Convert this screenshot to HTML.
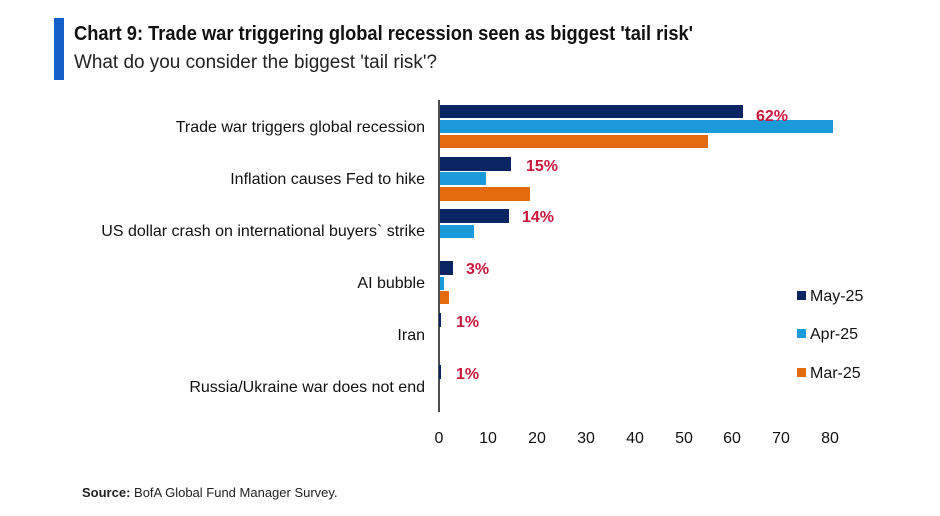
<!DOCTYPE html>
<html><head><meta charset="utf-8"><style>
body{margin:0;background:#fff;width:940px;height:511px;overflow:hidden;font-family:"Liberation Sans",sans-serif;}
</style></head><body>
<svg width="940" height="511" xmlns="http://www.w3.org/2000/svg" font-family="Liberation Sans, sans-serif">
<rect x="54" y="18" width="10" height="62" fill="#1560c8"/>
<text x="74" y="40" font-size="20" font-weight="bold" fill="#111" textLength="619" lengthAdjust="spacingAndGlyphs">Chart 9: Trade war triggering global recession seen as biggest 'tail risk'</text>
<text x="74" y="68" font-size="19" fill="#222" textLength="363" lengthAdjust="spacingAndGlyphs">What do you consider the biggest 'tail risk'?</text>
<g font-size="16" fill="#111" text-anchor="end">
<text x="425" y="132">Trade war triggers global recession</text>
<text x="425" y="184">Inflation causes Fed to hike</text>
<text x="425" y="236">US dollar crash on international buyers` strike</text>
<text x="425" y="288">AI bubble</text>
<text x="425" y="340">Iran</text>
<text x="425" y="392">Russia/Ukraine war does not end</text>
</g>
<line x1="439" y1="100" x2="439" y2="412" stroke="#111" stroke-width="1.5"/>
<g fill="#0b2563">
<rect x="440" y="105" width="303" height="13"/>
<rect x="440" y="157" width="71" height="14"/>
<rect x="440" y="209" width="69" height="14"/>
<rect x="440" y="261" width="13" height="14"/>
<rect x="439" y="313" width="2" height="14"/>
<rect x="439" y="365" width="2" height="14"/>
</g>
<g fill="#1a9ad9">
<rect x="440" y="120" width="393" height="13"/>
<rect x="440" y="172" width="46" height="13"/>
<rect x="440" y="225" width="34" height="13"/>
<rect x="440" y="277" width="4" height="13"/>
</g>
<g fill="#e36a0f">
<rect x="440" y="135" width="268" height="13"/>
<rect x="440" y="187" width="90" height="14"/>
<rect x="440" y="291" width="9" height="13"/>
</g>
<g font-size="16" font-weight="bold" fill="#c8173c">
<text x="756" y="121">62%</text>
<text x="526" y="171">15%</text>
<text x="522" y="222">14%</text>
<text x="466" y="274">3%</text>
<text x="456" y="327">1%</text>
<text x="456" y="379">1%</text>
</g>
<g font-size="16" fill="#111" text-anchor="middle">
<text x="439" y="443">0</text><text x="488" y="443">10</text><text x="537" y="443">20</text><text x="586" y="443">30</text><text x="635" y="443">40</text><text x="684" y="443">50</text><text x="732" y="443">60</text><text x="781" y="443">70</text><text x="830" y="443">80</text>
</g>
<rect x="797" y="291" width="9" height="9" fill="#0b2563"/>
<rect x="797" y="329" width="9" height="9" fill="#1a9ad9"/>
<rect x="797" y="368" width="9" height="9" fill="#e36a0f"/>
<g font-size="16" fill="#111">
<text x="810" y="301">May-25</text><text x="810" y="339">Apr-25</text><text x="810" y="378">Mar-25</text>
</g>
<text x="82" y="497" font-size="13" fill="#222"><tspan font-weight="bold">Source:</tspan> BofA Global Fund Manager Survey.</text>
</svg>
</body></html>
